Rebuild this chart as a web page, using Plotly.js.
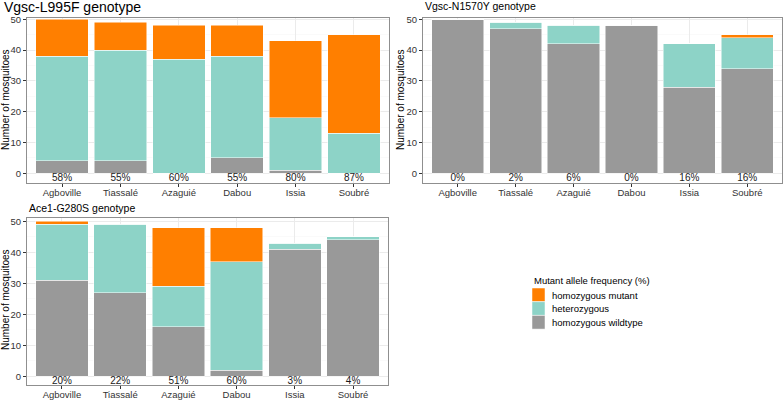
<!DOCTYPE html>
<html>
<head>
<meta charset="utf-8">
<script src="https://cdn.plot.ly/plotly-3.0.1.min.js"></script>
<style>
  html, body { margin: 0; padding: 0; background: #fff; }
  #chart { width: 784px; height: 400px; }
</style>
</head>
<body>
<div id="chart"></div>
<script>
// sites and genotype classes
const sites = ['Agboville', 'Tiassalé', 'Azaguié', 'Dabou', 'Issia', 'Soubré'];
const genotypes = ['homozygous mutant', 'heterozygous', 'homozygous wildtype'];
const colors = ['#FF7F00', '#8DD3C7', '#999999'];

// Vgsc-L995F
const l995fWild = [4, 4, 0, 5, 1, 0];
const l995fHet = [34, 36, 37, 33, 17, 13];
const l995fHom = [12, 9, 11, 10, 25, 32];
const l995fPct = ['58%', '55%', '60%', '55%', '80%', '87%'];

// Vgsc-N1570Y
const n1570yWild = [50, 47, 42, 48, 28, 34];
const n1570yHet = [0, 2, 6, 0, 14, 10];
const n1570yHom = [0, 0, 0, 0, 0, 1];
const n1570yPct = ['0%', '2%', '6%', '0%', '16%', '16%'];

// Ace1-G280S
const g280sWild = [31, 27, 16, 2, 41, 44];
const g280sHet = [18, 22, 13, 35, 2, 1];
const g280sHom = [1, 0, 19, 11, 0, 0];
const g280sPct = ['20%', '22%', '51%', '60%', '3%', '4%'];

const W = 784, H = 400;
const px = v => v / W;
const py = v => 1 - v / H;
const FONT = 'Liberation Sans, Arial, sans-serif';
const labelY = -1.7;

function panel(wild, het, hom, pct, n) {
  const xa = n === 1 ? 'x' : 'x' + n;
  const ya = n === 1 ? 'y' : 'y' + n;
  const bar = (vals, ci) => ({
    type: 'bar', x: sites, y: vals, xaxis: xa, yaxis: ya,
    name: genotypes[ci], showlegend: false, hoverinfo: 'skip',
    marker: { color: colors[ci], line: { color: '#ffffff', width: 0.5 } }
  });
  return [
    bar(wild, 2), bar(het, 1), bar(hom, 0),
    {
      type: 'scatter', mode: 'text', x: sites, y: sites.map(() => labelY),
      xaxis: xa, yaxis: ya, text: pct, textposition: 'middle center',
      textfont: { family: FONT, size: 10, color: '#1a1a1a' },
      showlegend: false, hoverinfo: 'skip', cliponaxis: false
    }
  ];
}

const data = [].concat(
  panel(l995fWild, l995fHet, l995fHom, l995fPct, 1),
  panel(n1570yWild, n1570yHet, n1570yHom, n1570yPct, 2),
  panel(g280sWild, g280sHet, g280sHom, g280sPct, 3)
);

function xaxis(domain, anchor) {
  return {
    domain: domain, anchor: anchor, type: 'category', categoryarray: sites,
    range: [-0.6, 5.6], automargin: false, fixedrange: true,
    showline: true, mirror: true, linecolor: '#8f8f8f', linewidth: 1,
    showgrid: true, gridcolor: '#ebebeb', gridwidth: 1,
    ticks: 'outside', ticklen: 3, tickcolor: '#333333', tickwidth: 1,
    ticklabelstandoff: -2,
    tickfont: { family: FONT, size: 9.5, color: '#333333' }
  };
}
function yaxis(domain, anchor, range) {
  return {
    domain: domain, anchor: anchor, range: range, automargin: false, fixedrange: true,
    tickvals: [0, 10, 20, 30, 40, 50], zeroline: false,
    showline: true, mirror: true, linecolor: '#8f8f8f', linewidth: 1,
    showgrid: true, gridcolor: '#ebebeb', gridwidth: 1,
    minor: { tickvals: [5, 15, 25, 35, 45], showgrid: true, gridcolor: '#f5f5f5', gridwidth: 0.5 },
    ticks: 'outside', ticklen: 3, tickcolor: '#333333', tickwidth: 1,
    tickfont: { family: FONT, size: 9.5, color: '#333333' }
  };
}

const annotations = [
  { text: 'Vgsc-L995F genotype', x: px(2), y: py(7), size: 14 },
  { text: 'Vgsc-N1570Y genotype', x: px(423), y: py(6), size: 10.5 },
  { text: 'Ace1-G280S genotype', x: px(27), y: py(208), size: 10.5 },
  { text: 'Mutant allele frequency (%)', x: px(532), y: py(280), size: 9.5 }
].map(a => ({
  text: a.text, x: a.x, y: a.y, xref: 'paper', yref: 'paper',
  xanchor: 'left', yanchor: 'middle', showarrow: false,
  font: { family: FONT, size: a.size, color: '#000000' }
}));

// y axis titles
[[5, 100], [400, 100], [5, 300]].forEach(p => annotations.push({
  text: 'Number of mosquitoes', x: px(p[0]), y: py(p[1]), xref: 'paper', yref: 'paper',
  xanchor: 'center', yanchor: 'middle', textangle: -90, showarrow: false,
  font: { family: FONT, size: 10, color: '#000000' }
}));

// legend keys
const shapes = [];
genotypes.forEach((g, i) => {
  const top = 288 + i * 13.7;
  shapes.push({
    type: 'rect', xref: 'paper', yref: 'paper',
    x0: px(532), x1: px(545), y0: py(top + 13.7), y1: py(top),
    fillcolor: colors[i], line: { color: '#ffffff', width: 0.5 }
  });
  annotations.push({
    text: g, x: px(550), y: py(top + 7), xref: 'paper', yref: 'paper',
    xanchor: 'left', yanchor: 'middle', showarrow: false,
    font: { family: FONT, size: 9.5, color: '#000000' }
  });
});

const layout = {
  width: W, height: H,
  margin: { l: 0, r: 0, t: 0, b: 0 },
  paper_bgcolor: '#ffffff', plot_bgcolor: '#ffffff',
  barmode: 'stack', bargap: 0.1,
  showlegend: false,
  font: { family: FONT },
  xaxis: xaxis([px(27), px(389)], 'y'),
  yaxis: yaxis([py(183), py(18)], 'x', [-3.15, 50.42]),
  xaxis2: xaxis([px(423), px(782)], 'y2'),
  yaxis2: yaxis([py(183), py(18)], 'x2', [-3.15, 50.42]),
  xaxis3: xaxis([px(27), px(388)], 'y3'),
  yaxis3: yaxis([py(385), py(218)], 'x3', [-2.8, 51.07]),
  annotations: annotations,
  shapes: shapes
};

Plotly.newPlot('chart', data, layout, { staticPlot: true, displayModeBar: false });
</script>
</body>
</html>
